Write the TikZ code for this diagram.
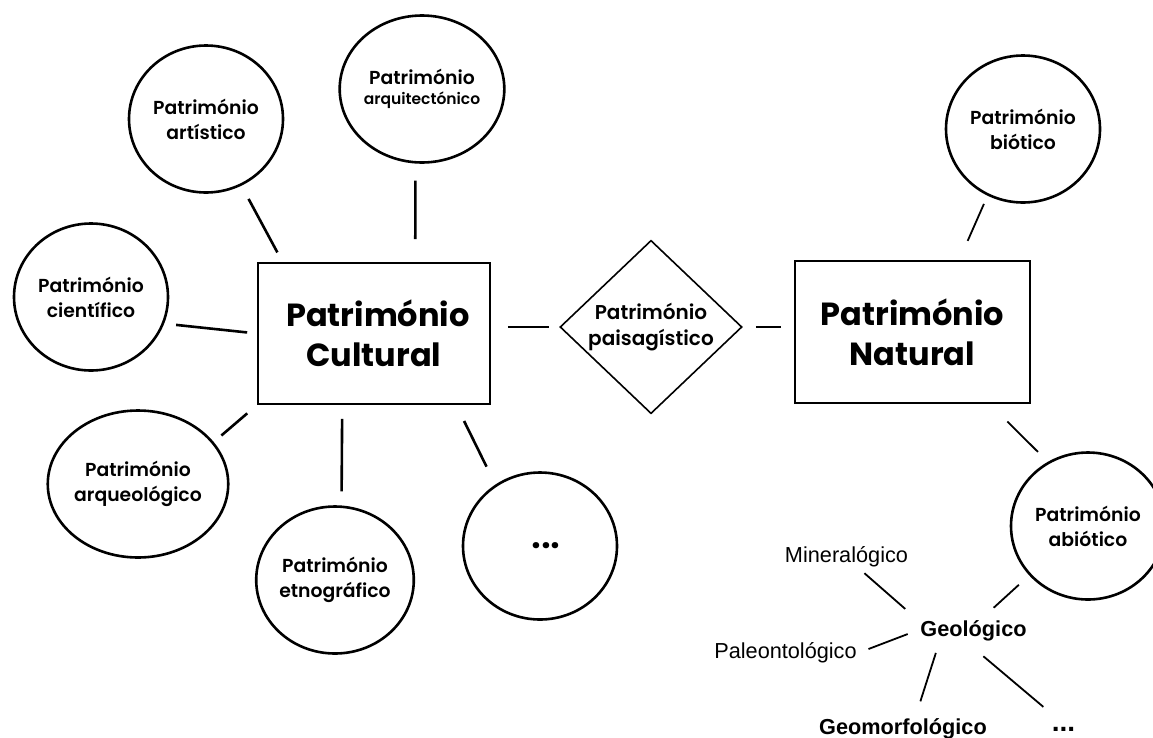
\documentclass[tikz,border=0pt]{standalone}
\usepackage{fontspec}
\setmainfont{Poppins}[BoldFont={Poppins SemiBold}]
\newfontfamily\labelfont{Liberation Sans}
\newfontfamily\heavyfont{Poppins Bold}
\usetikzlibrary{shapes.geometric}

\begin{document}
\begin{tikzpicture}[x=1pt, y=-1pt,
        heritage/.style={draw, ellipse, line width=2.6pt, minimum width=154pt, minimum height=147pt,
            inner sep=0pt, align=center, font=\bfseries\fontsize{18.8}{25}\selectfont},
        mainbox/.style={draw, rectangle, line width=1.8pt, inner sep=0pt, align=center,
            font=\heavyfont\fontsize{32}{40}\selectfont},
        sublabel/.style={inner sep=6pt, text height=16pt, text depth=5pt,
            font=\labelfont\fontsize{21.7}{26}\selectfont},
        link/.style={line width=2.6pt},
        thinlink/.style={line width=1.8pt}]

        \useasboundingbox (0,0) rectangle (1153,737);

        % Main boxes and the landscape diamond
        \node[mainbox, minimum width=232pt, minimum height=141pt] (cult) at (374,333.5) {\hspace*{8pt}Património\\Cultural};
        \node[mainbox, minimum width=235pt, minimum height=142pt] (nat) at (912.5,332) {Património\\Natural};
        \node[draw, diamond, line width=1.6pt, minimum width=182pt, minimum height=172pt, inner sep=0pt,
            align=center, font=\bfseries\fontsize{20}{26}\selectfont] (pais) at (651,327) {Património\\paisagístico};

        % Circles round the cultural heritage
        \node[heritage] (art) at (206,119) {Património\\artístico};
        \node[heritage] (arq) at (422,89) {Património\\[-5pt]{\fontsize{15.5}{20}\selectfont arquitectónico}};
        \node[heritage] (cien) at (91,297) {Património\\científico};
        \node[heritage] (arqueo) at (138,484) {Património\\arqueológico};
        \node[heritage] (etno) at (335,580) {Património\\etnográfico};
        \node[heritage] (dots) at (540,546) {\hspace*{12pt}\fontsize{38}{40}\selectfont ...};

        % Circles round the natural heritage
        \node[heritage] (bio) at (1023,129) {Património\\biótico};
        \node[heritage] (abio) at (1088,526) {Património\\abiótico};

        % Geological labels
        \node[sublabel] (mine) at (846.5,556.5) {Mineralógico};
        \node[sublabel] (paleo) at (785.5,652.5) {Paleontológico};
        \node[sublabel] (geol) at (973.5,630.5) {\bfseries Geológico};
        \node[sublabel] (geom) at (903,728.5) {\bfseries Geomorfológico};
        \node[sublabel] (more) at (1063.5,725.5) {\bfseries\fontsize{28}{30}\selectfont ...};

        % Lines to the cultural box
        \draw[link, shorten <=15pt, shorten >=11pt] (art.-62) -- (cult.142.5);
        \draw[link, shorten <=17pt, shorten >=23pt] (arq.-95) -- (cult.60);
        \draw[link, shorten <=12pt, shorten >=10pt] (cien.-20) -- (cult.180);
        \draw[link, shorten <=10pt, shorten >=13pt] (arqueo.29) -- (cult.south west);
        \draw[link, shorten <=14pt, shorten >=14pt] (cult.-114) -- (etno.85);
        \draw[link, shorten <=18pt, shorten >=20pt] (cult.-41) -- (dots.126);

        % Lines through the diamond
        \draw[thinlink, shorten <=17pt, shorten >=10pt] (cult.east |- pais.west) -- (pais.west);
        \draw[thinlink, shorten <=13pt, shorten >=13pt] (pais.east) -- (nat.west |- pais.east);

        % Lines to the natural box
        \draw[thinlink, shorten <=9pt, shorten >=21pt] (bio.-118) -- (nat.57);
        \draw[thinlink, shorten <=25pt, shorten >=14pt] (nat.-43.6) -- (abio.122.7);

        % Geological branches
        \draw[thinlink, shorten <=14pt, shorten >=9pt] (abio.-140) -- (geol.51.8);
        \draw[thinlink, shorten >=12pt] (mine.-43.3) -- (geol.167.5);
        \draw[thinlink, shorten <=6pt, shorten >=7pt] (paleo.1.6) -- (geol.181);
        \draw[thinlink, shorten <=6pt, shorten >=11pt] (geol.205.6) -- (geom.50.7);
        \draw[thinlink, shorten <=14pt, shorten >=3pt] (geol.-93) -- (more.north west);

\end{tikzpicture}
\end{document}
